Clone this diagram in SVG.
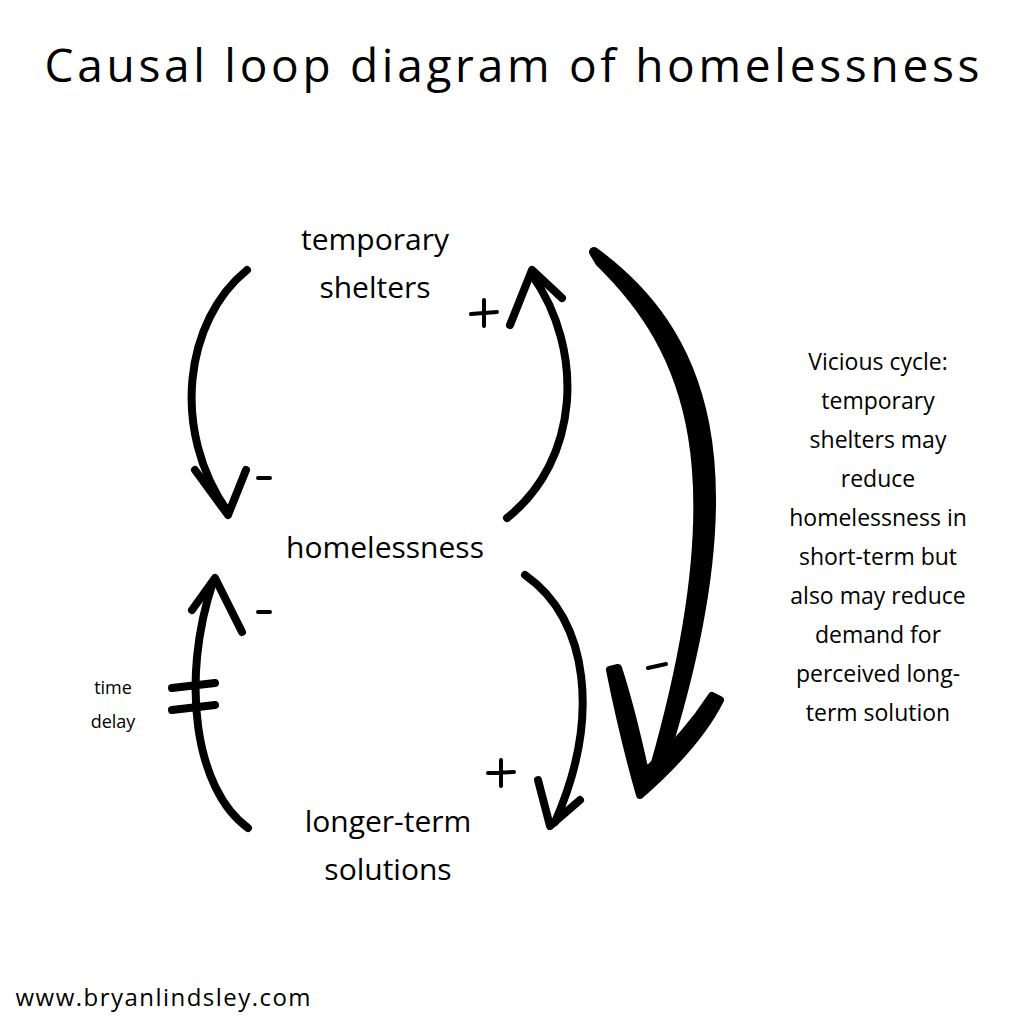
<svg xmlns="http://www.w3.org/2000/svg" width="1024" height="1024" viewBox="0 0 1024 1024">
<style>
text{font-family:"Open Sans","DejaVu Sans",sans-serif;fill:#000;text-anchor:middle}
.n{font-size:30px}
.s{font-size:23px}
.c{fill:none;stroke:#000;stroke-width:8;stroke-linecap:round;stroke-linejoin:round}
.g{fill:none;stroke:#000;stroke-width:4;stroke-linecap:round}
</style>
<rect width="1024" height="1024" fill="#fff"/>
<text x="512" y="82" style="font-size:46px" textLength="935" lengthAdjust="spacing">Causal loop diagram of homelessness</text>
<g id="temporary-shelters"><text class="n" x="375" y="250">temporary</text><text class="n" x="375" y="298">shelters</text></g>
<g id="homelessness"><text class="n" x="385" y="558">homelessness</text></g>
<g id="longer-term-solutions"><text class="n" x="388" y="832">longer-term</text><text class="n" x="388" y="880">solutions</text></g>
<g id="note" class="s">
<text x="878" y="370">Vicious cycle:</text><text x="878" y="409">temporary</text><text x="878" y="448">shelters may</text><text x="878" y="487">reduce</text><text x="878" y="526">homelessness in</text><text x="878" y="565">short-term but</text><text x="878" y="604">also may reduce</text><text x="878" y="643">demand for</text><text x="878" y="682">perceived long-</text><text x="878" y="721">term solution</text>
</g>
<g id="time-delay"><text x="113" y="694" style="font-size:18px">time</text><text x="113" y="728" style="font-size:18px">delay</text></g>
<text x="163" y="1006" style="font-size:24px" textLength="295" lengthAdjust="spacing">www.bryanlindsley.com</text>
<g id="connectors">
<path class="c" d="M247,270 C185,320 170,430 228,512"/>
<path class="c" d="M195,470 L228,515 L246,470"/>
<path class="c" d="M507,518 C580,460 585,350 532,275"/>
<path class="c" d="M510,325 L532,270 L562,298"/>
<path d="M594,252 C700,330 760,460 660,770 L654,770 C740,470 690,350 600,262 Z" fill="#000" stroke="#000" stroke-width="10" stroke-linejoin="round"/>
<path d="M610,670 C620,720 630,760 640,795 C680,760 705,730 720,700 L712,696 C690,730 665,755 645,772 C638,740 630,705 618,668 Z" fill="#000" stroke="#000" stroke-width="8" stroke-linejoin="round"/>
<path class="c" d="M525,575 C590,620 600,720 555,822"/>
<path class="c" d="M538,780 L550,826 L580,800"/>
<path class="c" d="M248,828 C195,790 180,680 213,582"/>
<path class="c" d="M192,610 L215,578 L242,632"/>
<path class="c" d="M172,688 L215,683 M172,710 L215,705"/>
</g>
<g id="signs">
<path class="g" d="M258,478 L270,478 M471,314 L497,312 M484,300 L484,326 M648,668 L666,664 M488,773 L514,772 M501,760 L501,786 M258,612 L270,612"/>
</g>
</svg>
